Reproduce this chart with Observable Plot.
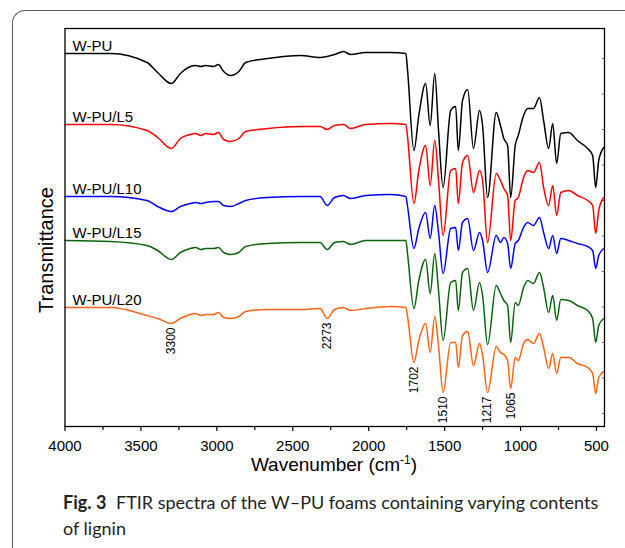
<!DOCTYPE html>
<html>
<head>
<meta charset="utf-8">
<script src="https://cdn.jsdelivr.net/npm/d3@7"></script>
<script src="https://cdn.jsdelivr.net/npm/@observablehq/plot@0.6"></script>
<style>
  html, body { margin: 0; padding: 0; background: #fff; }
  body { width: 625px; height: 548px; position: relative; overflow: hidden; font-family: "Liberation Sans", Arial, sans-serif; }
  #frame { position: absolute; left: 12px; top: 10px; width: 700px; height: 560px; border-top: 1.5px solid #5a5a5a; border-left: 1.5px solid #5a5a5a; border-top-left-radius: 13px; }
  #chart { position: absolute; left: 0; top: 0; }
  #ylab { position: absolute; left: 46px; top: 250px; transform: translate(-50%, -50%) rotate(-90deg); font-size: 20px; white-space: nowrap; color: #000; }
  #xlab { position: absolute; left: 334px; top: 453px; transform: translateX(-50%); font-size: 19px; white-space: nowrap; color: #000; }
  #xlab sup { font-size: 12px; }
  .cap { position: absolute; font-family: Lato, "Open Sans", sans-serif; font-size: 18px; line-height: 26px; color: #231f20; white-space: nowrap; }
  #capFig { left: 63px; top: 489px; font-weight: 700; }
  #capLine1 { left: 116px; top: 489px; }
  #capLine2 { left: 63px; top: 515px; }
</style>
</head>
<body>
<div id="frame"></div>
<div id="chart"></div>
<div id="ylab">Transmittance</div>
<div id="xlab">Wavenumber (cm<sup>-1</sup>)</div>
<div class="cap" id="capFig">Fig. 3</div>
<div class="cap" id="capLine1">FTIR spectra of the W–PU foams containing varying contents</div>
<div class="cap" id="capLine2">of lignin</div>
<script>
const wavenumbers = [4000, 3700, 3460, 3390, 3300, 3240, 3175, 3140, 3105, 3075, 3020, 2990, 2955, 2910, 2855, 2810, 2665, 2450, 2320, 2273, 2225, 2165, 2120, 2020, 1855, 1755, 1745, 1702, 1670, 1625, 1595, 1565, 1540, 1510, 1460, 1427, 1410, 1382, 1348, 1310, 1270, 1250, 1217, 1160, 1132, 1110, 1085, 1065, 1035, 1015, 980, 953, 915, 875, 848, 815, 788, 762, 735, 683, 625, 558, 525, 505, 485, 452];

const tWPU = [373, 373, 364, 354, 343, 353, 360, 361, 360, 361, 360, 362, 355, 351, 355, 364, 368, 371, 369, 370, 372, 375, 372, 374, 374, 373, 358, 276, 311, 343, 301, 353, 296, 239, 316, 320, 276, 326, 337, 278, 316, 301, 229, 314, 301, 288, 281, 229, 281, 291, 311, 318, 318, 329, 306, 278, 303, 263, 293, 294, 286, 278, 271, 239, 266, 279];
const tL5 = [302, 302, 296, 289, 278, 288, 292, 293, 291, 293, 292, 294, 287, 285, 288, 295, 298, 300, 300, 297, 301, 302, 298, 302, 303, 302, 291, 223, 256, 281, 241, 286, 246, 191, 256, 258, 223, 264, 271, 234, 256, 246, 184, 253, 246, 238, 231, 186, 226, 229, 249, 256, 254, 264, 239, 221, 241, 211, 234, 236, 231, 226, 221, 193, 216, 229];
const tL10 = [230, 230, 226, 220, 215, 220, 223, 224, 223, 224, 225, 225, 221, 220, 223, 226, 229, 230, 230, 221, 229, 231, 228, 231, 232, 230, 221, 178, 198, 214, 188, 221, 194, 153, 198, 199, 176, 204, 208, 176, 194, 186, 154, 191, 184, 189, 183, 158, 183, 186, 199, 204, 201, 209, 194, 178, 191, 173, 188, 186, 183, 180, 176, 158, 171, 178];
const tL15 = [186, 185, 181, 176, 167, 174, 178, 179, 177, 178, 178, 179, 174, 172, 174, 180, 183, 184, 184, 177, 184, 185, 182, 186, 186, 186, 174, 118, 146, 167, 133, 173, 136, 86, 144, 146, 116, 154, 158, 116, 144, 131, 82, 141, 133, 126, 121, 84, 124, 121, 139, 146, 143, 154, 139, 114, 131, 106, 127, 126, 121, 116, 108, 84, 101, 108];
const tL20 = [119, 119, 111, 108, 103, 108, 112, 113, 111, 112, 112, 114, 109, 108, 110, 115, 117, 117, 118, 108, 117, 119, 116, 118, 120, 119, 111, 64, 86, 103, 74, 110, 81, 34, 84, 84, 59, 91, 95, 61, 83, 71, 34, 80, 74, 72, 66, 38, 69, 66, 83, 87, 83, 93, 79, 58, 73, 53, 69, 69, 63, 59, 53, 33, 49, 55];

const seriesNames = ["W-PU", "W-PU/L5", "W-PU/L10", "W-PU/L15", "W-PU/L20"];
const seriesColors = ["#000000", "#ff0000", "#0000ff", "#0b640b", "#ff6410"];
const seriesValues = [tWPU, tL5, tL10, tL15, tL20];
const peakLabels = [3300, 2273, 1702, 1510, 1217, 1065];
const xTicks = [4000, 3500, 3000, 2500, 2000, 1500, 1000, 500];
const xMinorTicks = [3750, 3250, 2750, 2250, 1750, 1250, 750];

const rows = [];
seriesNames.forEach((name, i) => {
  wavenumbers.forEach((wn, j) => rows.push({series: name, wn, t: seriesValues[i][j]}));
});
const labelRows = seriesNames.map((name, i) => ({name, t: seriesValues[i][0]}));
const peakRows = peakLabels.map(wn => ({wn, t: tL20[wavenumbers.indexOf(wn)], label: String(wn)}));
const yTicks = d3.range(13, 398, 35.5);

const chart = Plot.plot({
  width: 625,
  height: 482,
  marginTop: 28,
  marginLeft: 64.5,
  marginRight: 21,
  marginBottom: 56,
  style: {fontFamily: "'Liberation Sans', Arial, sans-serif", background: "transparent", color: "#000"},
  x: {domain: [4000, 447], label: null},
  y: {domain: [0, 398], label: null},
  color: {domain: seriesNames, range: seriesColors},
  marks: [
    Plot.axisX({ticks: xMinorTicks, tickSize: 4, tickFormat: () => "", label: null, strokeWidth: 1.2}),
    Plot.axisX({ticks: xTicks, tickSize: 5, tickPadding: 9, fontSize: 15, label: null, strokeWidth: 1.2, tickFormat: d => String(d)}),
    Plot.axisY({anchor: "right", ticks: yTicks, tickSize: 3, dx: -3, tickFormat: () => "", label: null, stroke: "#666"}),
    Plot.line(rows, {x: "wn", y: "t", z: "series", stroke: "series", strokeWidth: 1.5, curve: "monotone-x"}),
    Plot.text(labelRows, {x: 3950, y: "t", text: "name", textAnchor: "start", lineAnchor: "bottom", dy: -3, fontSize: 15, fill: "#000"}),
    Plot.text(peakRows, {x: "wn", y: "t", text: "label", rotate: -90, textAnchor: "end", lineAnchor: "middle", dy: 4, fontSize: 12, fill: "#000"}),
    Plot.frame({stroke: "#000", strokeWidth: 1.3})
  ]
});
document.getElementById("chart").appendChild(chart);
</script>
</body>
</html>
